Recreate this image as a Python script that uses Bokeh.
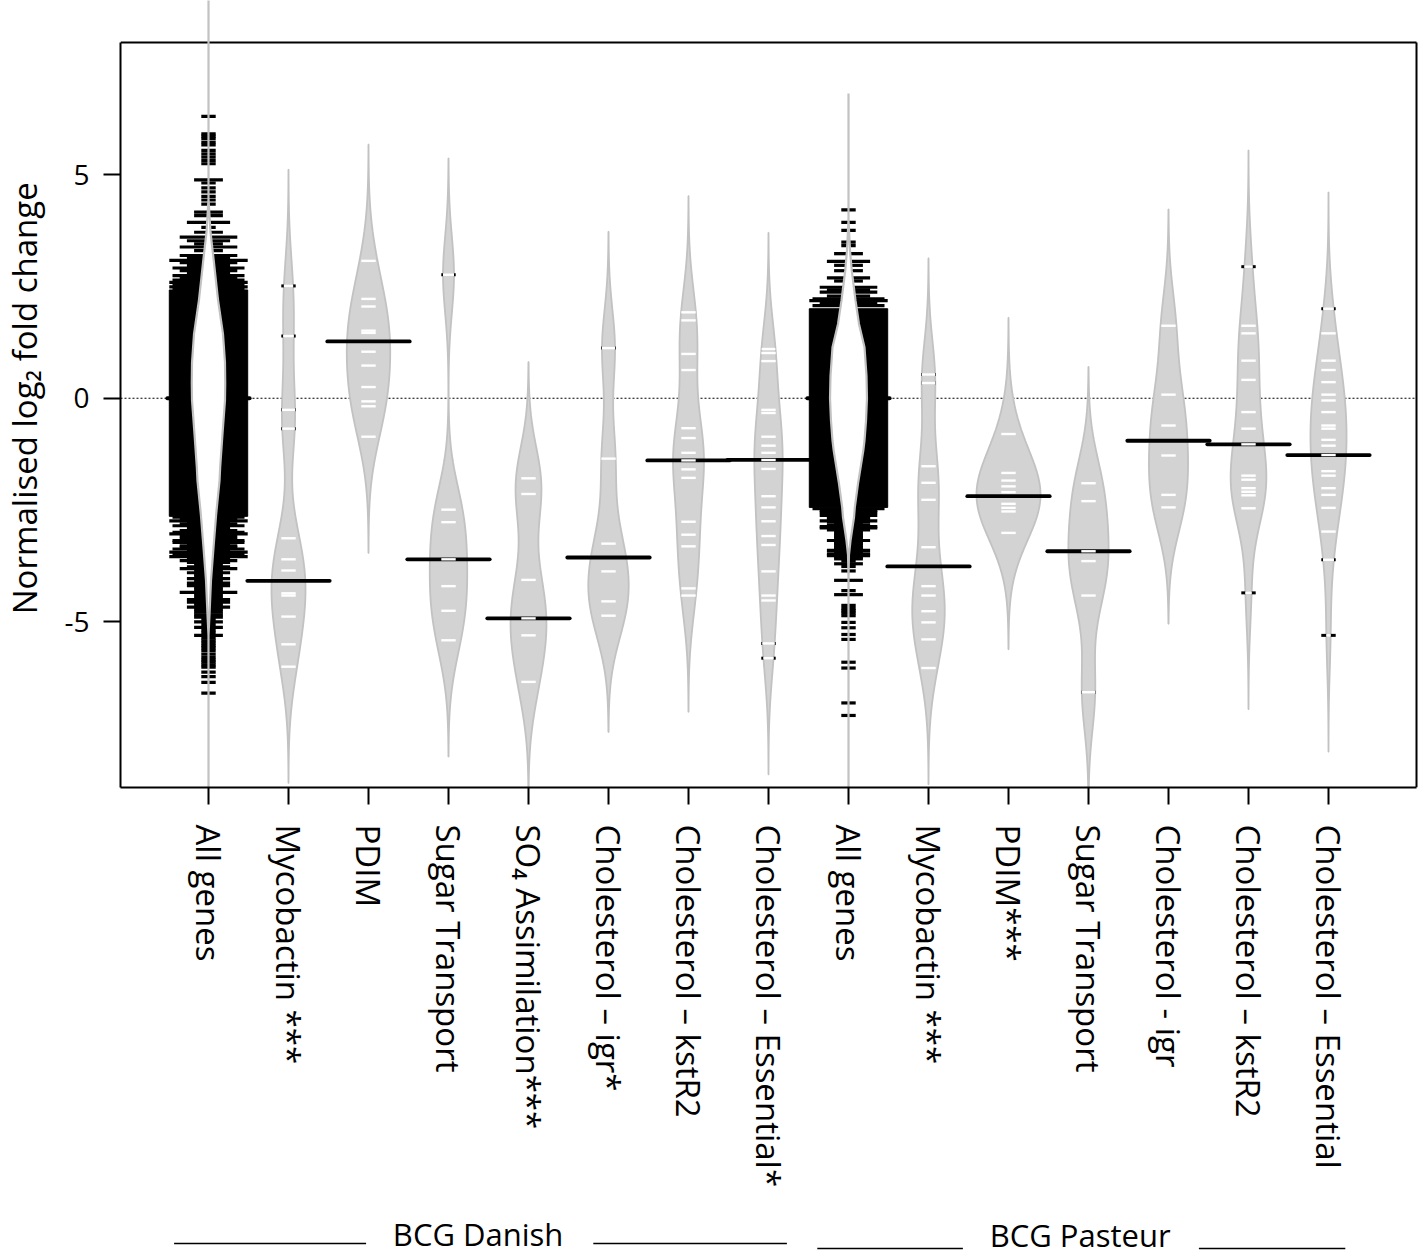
import math
import numpy as np
from bokeh.plotting import figure
from bokeh.models import Range1d, FixedTicker
from bokeh.layouts import column, row
from bokeh.core.properties import value
from bokeh.embed import file_html
from bokeh.resources import INLINE

# ---------------- data ----------------
categories = ["All genes", "Mycobactin ***", "PDIM", "Sugar Transport", "SO\u2084 Assimilation***",
              "Cholesterol \u2013 igr*", "Cholesterol \u2013 kstR2", "Cholesterol \u2013 Essential*",
              "All genes", "Mycobactin ***", "PDIM***", "Sugar Transport", "Cholesterol - igr",
              "Cholesterol \u2013 kstR2", "Cholesterol \u2013 Essential"]
strain_labels = ["BCG Danish", "BCG Pasteur"]
y_title = "Normalised log\u2082 fold change"
group_means = [0.0, -4.08, 1.27, -3.60, -4.92, -3.56, -1.39, -1.38,
               0.0, -3.76, -2.19, -3.42, -0.95, -1.03, -1.27]
y_ticks = [-5, 0, 5]

# individual genes of the gene sets (normalised log2 fold change)
dan_mycobactin = [2.51, 1.39, -0.26, -0.68, -3.13, -3.60, -3.85, -4.36, -4.41, -4.88, -5.50, -6.00]
dan_pdim = [3.07, 2.22, 2.05, 1.51, 1.46, 1.04, 0.73, 0.25, -0.07, -0.18, -0.86]
dan_sugar = [2.76, -2.49, -2.77, -3.60, -4.20, -4.75, -5.41]
dan_so4 = [-1.79, -2.14, -4.06, -4.92, -5.30, -6.34]
dan_chol_igr = [1.12, -1.35, -3.25, -3.87, -4.54, -4.86]
dan_chol_kstr2 = [1.92, 1.74, 0.99, 0.63, -0.67, -0.89, -1.22, -1.39, -1.59, -1.78,
                  -2.76, -3.05, -3.31, -4.25, -4.41]
dan_chol_ess = [1.10, 1.01, 0.83, -0.26, -0.33, -0.86, -1.06, -1.22, -1.38, -1.58,
                -2.19, -2.44, -2.75, -3.08, -3.28, -3.87, -4.41, -4.52, -5.48, -5.81]
pas_mycobactin = [0.53, 0.34, -1.52, -1.89, -2.27, -3.33, -4.20, -4.41, -4.76, -5.01, -5.39, -6.03]
pas_pdim = [-0.80, -1.67, -1.84, -1.97, -2.10, -2.36, -2.45, -2.53, -3.01]
pas_sugar = [-1.90, -2.30, -3.42, -3.64, -4.41, -6.57]
pas_chol_igr = [1.62, 0.08, -0.61, -1.28, -2.16, -2.44]
pas_chol_kstr2 = [2.94, 1.62, 1.45, 0.84, 0.41, -0.31, -0.68, -1.03, -1.73, -1.82,
                  -2.01, -2.09, -2.17, -2.46, -4.35]
pas_chol_ess = [2.00, 1.45, 0.84, 0.63, 0.36, 0.08, -0.05, -0.31, -0.61, -0.68, -0.93,
                -1.06, -1.27, -1.63, -1.73, -2.01, -2.16, -2.45, -2.98, -3.61, -5.30]

# "All genes": tail values with the number of genes at each value, the dense core range,
# and the bean (density) outline as half widths
dan_all_tail_v = [6.30, 5.91, 5.86, 5.80, 5.72, 5.66, 5.54, 5.46, 5.39, 5.31, 5.24, 4.88, 4.81,
                  4.70, 4.61, 4.51, 4.43, 4.34, 4.16, 4.08, 3.93, 3.82, 3.71, 3.60, 3.52, 3.45,
                  3.38, 3.30, 3.19, 3.13, 3.08, 3.03, 2.97, 2.91, 2.85, 2.80, 2.74, 2.70, 2.64,
                  2.59, 2.54, 2.49, 2.45,
                  -2.66, -2.70, -2.74, -2.78, -2.81, -2.85, -2.89, -2.92, -2.96, -3.00, -3.03,
                  -3.07, -3.11, -3.14, -3.18, -3.22, -3.26, -3.30, -3.33, -3.37, -3.41, -3.44,
                  -3.49, -3.54, -3.58, -3.63, -3.67, -3.72, -3.77, -3.81, -3.86, -3.90, -3.93,
                  -3.98, -4.03, -4.08, -4.13, -4.19, -4.23, -4.28, -4.34, -4.39, -4.45, -4.50,
                  -4.56, -4.61, -4.67, -4.72, -4.78, -4.84, -4.89, -4.95, -5.00, -5.06, -5.12,
                  -5.18, -5.24, -5.30, -5.36, -5.42, -5.47, -5.53, -5.58, -5.64, -5.72, -5.79,
                  -5.85, -5.90, -5.96, -6.01, -6.12, -6.22, -6.35, -6.59]
dan_all_tail_n = [1, 1, 1, 1, 1, 1, 1, 1, 1, 1, 1, 2, 1,
                  1, 1, 1, 1, 1, 2, 2, 3, 1, 2, 4, 3, 2,
                  4, 2, 4, 3, 6, 4, 3, 5, 4, 3, 5, 4, 5,
                  6, 5, 6, 5,
                  5, 4, 6, 3, 4, 5, 3, 2, 4, 5, 6,
                  4, 3, 4, 5, 5, 3, 4, 4, 5, 3, 6,
                  5, 6, 3, 4, 3, 2, 3, 4, 2, 3, 2,
                  2, 3, 2, 3, 3, 2, 2, 4, 2, 2, 3,
                  3, 2, 3, 2, 2, 2, 2, 1, 2, 1, 2,
                  1, 1, 2, 1, 1, 1, 1, 1, 1, 1, 1,
                  1, 1, 1, 1, 1, 1, 1, 1]
dan_all_core = [-2.64, 2.42]
dan_all_bean_v = [4.45, 3.71, 3.07, 2.20, 1.44, 0.80, 0.33, -0.05, -0.80, -1.54, -1.84,
                  -2.59, -3.33, -4.08, -4.82, -5.30]
dan_all_bean_w = [0.0, 0.025, 0.066, 0.119, 0.181, 0.206, 0.209, 0.206, 0.175, 0.146, 0.138,
                  0.096, 0.063, 0.031, 0.013, 0.0]

pas_all_tail_v = [4.21, 3.93, 3.75, 3.49, 3.41, 3.23, 3.06, 2.97, 2.85, 2.69, 2.62, 2.48,
                  2.42, 2.37, 2.28, 2.22, 2.18, 2.12, 2.07,
                  -2.47, -2.51, -2.55, -2.59, -2.62, -2.66, -2.70, -2.74, -2.77, -2.80, -2.84,
                  -2.87, -2.90, -2.94, -2.99, -3.03, -3.07, -3.10, -3.14, -3.18, -3.22, -3.25,
                  -3.29, -3.33, -3.36, -3.40, -3.44, -3.48, -3.52, -3.55, -3.59, -3.64, -3.70,
                  -3.76, -3.86, -4.07, -4.30, -4.39, -4.63, -4.70, -4.75, -4.80, -4.86, -5.01,
                  -5.13, -5.28, -5.39, -5.90, -6.03, -6.81, -7.09]
pas_all_tail_n = [1, 1, 1, 1, 1, 2, 3, 2, 2, 3, 2, 4,
                  3, 4, 3, 5, 6, 4, 5,
                  5, 4, 4, 3, 4, 3, 3, 4, 3, 2, 3,
                  4, 4, 3, 2, 2, 2, 2, 2, 3, 2, 2,
                  2, 2, 2, 3, 2, 3, 3, 2, 2, 1, 2,
                  1, 1, 2, 1, 2, 1, 1, 1, 1, 1, 1,
                  1, 1, 1, 1, 1, 1, 1]
pas_all_core = [-2.44, 2.00]
pas_all_bean_v = [4.00, 3.30, 2.85, 2.18, 1.66, 1.14, 0.50, 0.00, -0.50, -0.95, -1.17, -1.91,
                  -2.44, -2.66, -3.19, -3.50, -4.00]
pas_all_bean_w = [0.0, 0.019, 0.041, 0.088, 0.131, 0.200, 0.225, 0.231, 0.219, 0.200, 0.185,
                  0.119, 0.079, 0.069, 0.025, 0.006, 0.0]

# ---------------- styling / layout constants ----------------
FONT = "Open Sans"
BEAN_FILL = "#d3d3d3"
BEAN_LINE = "#c2c2c2"
BW = 0.867            # kernel bandwidth of the beans
CUT = 3 * BW          # beans extend 3 bandwidths past the extreme genes
MAX_HALF = 0.4        # half width of the widest bean
LINE_HALF = 0.09      # half length of one gene line
CAP_HALF = 0.49       # longest gene line
MEAN_HALF = 0.515     # half length of the group mean line
X_LO, X_HI, X_FRAME_HI = -0.1, 16.1, 16.125
Y_LO, Y_HI, BOX_TOP = -8.70, 8.889, 7.95
W_TOTAL, H_MAIN, H_BOTTOM, W_TITLE = 1418, 1200, 56, 48

positions = list(range(1, len(categories) + 1))
gene_sets = {2: dan_mycobactin, 3: dan_pdim, 4: dan_sugar, 5: dan_so4, 6: dan_chol_igr,
             7: dan_chol_kstr2, 8: dan_chol_ess, 10: pas_mycobactin, 11: pas_pdim,
             12: pas_sugar, 13: pas_chol_igr, 14: pas_chol_kstr2, 15: pas_chol_ess}
all_sets = {1: (dan_all_tail_v, dan_all_tail_n, dan_all_core, dan_all_bean_v, dan_all_bean_w),
            9: (pas_all_tail_v, pas_all_tail_n, pas_all_core, pas_all_bean_v, pas_all_bean_w)}


def kde(vals, grid):
    v = np.asarray(vals, dtype=float)
    z = (np.asarray(grid)[:, None] - v[None, :]) / BW
    return np.exp(-0.5 * z * z).sum(axis=1) / (len(v) * BW * math.sqrt(2 * math.pi))


grids = {k: np.linspace(min(v) - CUT, max(v) + CUT, 300) for k, v in gene_sets.items()}
dens = {k: kde(gene_sets[k], grids[k]) for k in gene_sets}
dmax = max(d.max() for d in dens.values())
scale = MAX_HALF / dmax

p = figure(width=W_TOTAL - W_TITLE, height=H_MAIN, x_range=Range1d(X_LO, X_FRAME_HI),
           y_range=Range1d(Y_LO, Y_HI), output_backend="svg", toolbar_location=None, title=None,
           min_border_left=120 - W_TITLE, min_border_right=0, min_border_top=0,
           min_border_bottom=H_MAIN - 787)
p.outline_line_color = None
p.xgrid.visible = False
p.ygrid.visible = False
p.background_fill_color = "white"
p.border_fill_color = "white"

# axes
p.yaxis.ticker = FixedTicker(ticks=y_ticks)
p.yaxis.major_label_overrides = {t: str(t) for t in y_ticks}
p.yaxis.bounds = (Y_LO, BOX_TOP)
p.yaxis.major_label_text_font = FONT
p.yaxis.major_label_text_font_size = "28px"
p.yaxis.major_label_standoff = 14

p.xaxis.ticker = FixedTicker(ticks=positions)
p.xaxis.major_label_overrides = {i: c for i, c in zip(positions, categories)}
p.xaxis.major_label_orientation = -math.pi / 2
p.xaxis.bounds = (X_LO, X_HI)
p.xaxis.major_label_text_font = FONT
p.xaxis.major_label_text_font_size = "33px"
p.xaxis.major_label_standoff = 20
for ax in (p.xaxis, p.yaxis):
    ax.axis_line_width = 2
    ax.axis_line_color = "black"
    ax.major_tick_line_width = 2
    ax.major_tick_out = 17
    ax.major_tick_in = 0
    ax.minor_tick_line_color = None
    ax.major_label_text_color = "black"

# plot box: top and right edges
p.segment(x0=[X_LO, X_HI], y0=[BOX_TOP, Y_LO], x1=[X_HI, X_HI], y1=[BOX_TOP, BOX_TOP],
          line_color="black", line_width=2)
# overall zero line
p.segment(x0=[X_LO], y0=[0], x1=[X_HI], y1=[0], line_color="black", line_width=1.2, line_dash="2 2")

# grey beans
xs, ys = [], []
for k in gene_sets:
    g = grids[k]
    w = dens[k] * scale
    xs.append(np.concatenate([k + w, (k - w)[::-1]]).tolist())
    ys.append(np.concatenate([g, g[::-1]]).tolist())
p.patches(xs=xs, ys=ys, fill_color=BEAN_FILL, line_color=BEAN_LINE, line_width=1.8)

# group mean lines
p.segment(x0=[x - MEAN_HALF for x in positions], y0=group_means,
          x1=[x + MEAN_HALF for x in positions], y1=group_means,
          line_color="black", line_width=3.8, line_cap="round")

# gene lines in grey beans: white inside the bean, black outside
wx0, wx1, wy, bx0, bx1, by = [], [], [], [], [], []
for k, vals in gene_sets.items():
    wv = kde(vals, vals) * scale
    for v, w in zip(vals, wv):
        h = min(LINE_HALF, w)
        wx0.append(k - h); wx1.append(k + h); wy.append(v)
        if w < LINE_HALF:
            bx0 += [k - LINE_HALF, k + w]; bx1 += [k - w, k + LINE_HALF]; by += [v, v]
p.segment(x0=bx0, y0=by, x1=bx1, y1=by, line_color="black", line_width=3)
p.segment(x0=wx0, y0=wy, x1=wx1, y1=wy, line_color="white", line_width=2.4)

# "All genes" beans
for k, (tv, tn, core, bv, bw_) in all_sets.items():
    p.quad(left=[k - CAP_HALF], right=[k + CAP_HALF], bottom=[core[0]], top=[core[1]],
           fill_color="black", line_color="black", line_width=1)
    halves = [min(n * LINE_HALF, CAP_HALF) for n in tn]
    p.segment(x0=[k - h for h in halves], y0=tv, x1=[k + h for h in halves], y1=tv,
              line_color="black", line_width=3.2)
    hi = max(tv) + CUT
    lo = min(tv) - CUT
    vv = [hi] + list(bv) + [lo]
    ww = [0.0] + list(bw_) + [0.0]
    p.patch(x=[k + w for w in ww] + [k - w for w in ww[::-1]], y=vv + vv[::-1],
            fill_color="white", line_color=BEAN_LINE, line_width=2.2)

# ---------------- y-axis title (own narrow panel on the left) ----------------
t = figure(width=W_TITLE, height=H_MAIN, x_range=Range1d(0, W_TITLE), y_range=p.y_range,
           output_backend="svg", toolbar_location=None, title=None,
           x_axis_type=None, y_axis_type=None,
           min_border_left=0, min_border_right=0, min_border_top=0,
           min_border_bottom=H_MAIN - 787)
t.outline_line_color = None
t.grid.visible = False
t.text(x=[24], y=[0.0], text=[y_title], angle=math.pi / 2, text_align="center",
       text_baseline="middle", text_font=value(FONT), text_font_size="33px", text_color="black")

# ---------------- strain labels under the axis ----------------
q = figure(width=W_TOTAL, height=H_BOTTOM, x_range=p.x_range, y_range=Range1d(0, H_BOTTOM),
           output_backend="svg", toolbar_location=None, title=None,
           x_axis_type=None, y_axis_type=None,
           min_border_left=120, min_border_right=0, min_border_top=0, min_border_bottom=0)
q.outline_line_color = None
q.grid.visible = False
q.text(x=[4.37, 11.895], y=[23, 22], text=strain_labels, text_align="center",
       text_baseline="middle", text_font=value(FONT), text_font_size="31px", text_color="black")
q.segment(x0=[0.57, 5.81, 8.61, 13.38], y0=[13, 13, 8, 8], x1=[2.97, 8.23, 10.43, 15.21],
          y1=[13, 13, 8, 8], line_color="black", line_width=1.5)

layout = column(row(t, p, spacing=0), q, spacing=0)
open("out.html", "w").write(file_html(layout, INLINE))
